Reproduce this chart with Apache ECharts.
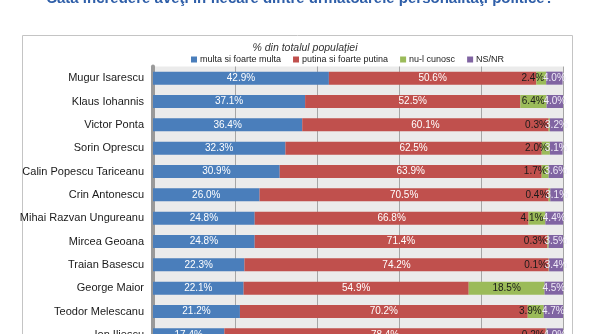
<!DOCTYPE html>
<html><head><meta charset="utf-8">
<script src="https://cdn.jsdelivr.net/npm/echarts@6/dist/echarts.min.js"></script>
<style>html,body{margin:0;padding:0;background:#fff;overflow:hidden;height:334px}#c{width:600px;height:360px}</style>
</head><body><div id="c"></div>
<script>
const categories = ["Mugur Isarescu","Klaus Iohannis","Victor Ponta","Sorin Oprescu","Calin Popescu Tariceanu","Crin Antonescu","Mihai Razvan Ungureanu","Mircea Geoana","Traian Basescu","George Maior","Teodor Melescanu","Ion Iliescu"];
const multa = [42.9,37.1,36.4,32.3,30.9,26.0,24.8,24.8,22.3,22.1,21.2,17.4];
const putina = [50.6,52.5,60.1,62.5,63.9,70.5,66.8,71.4,74.2,54.9,70.2,78.4];
const nuCunosc = [2.4,6.4,0.3,2.0,1.7,0.4,4.1,0.3,0.1,18.5,3.9,0.2];
const nsnr = [4.0,4.0,3.2,3.1,3.6,3.1,4.4,3.5,3.4,4.5,4.7,4.0];
const seriesNames = ["multa si foarte multa","putina si foarte putina","nu-l cunosc","NS/NR"];
const colors = ["#4a7ebb","#c0504d","#9bbb59","#8064a2"];
const labelColors = ["#ffffff","#ffffff","#1a1a1a","#f0ecf8"];

const chart = echarts.init(document.getElementById('c'), null, {renderer:'canvas'});
const dataSets = [multa, putina, nuCunosc, nsnr];
const series = dataSets.map((d,i)=>({
  name: seriesNames[i], type:'bar', stack:'t', barWidth:13,
  data: d.map(v => {
    const o = {value:v};
    if (i === 2 && v < 10) o.label = {position:'insideRight', distance:2};
    return o;
  }),
  itemStyle:{color:colors[i]},
  label:{show:true, position:'inside', color:labelColors[i], fontSize:10, fontFamily:'Liberation Sans',
    formatter: p => p.value.toFixed(1)+'%'},
  labelLayout:{hideOverlap:false}
}));
chart.setOption({
  animation:false,
  title:[{text:'Cata incredere aveţi in fiecare dintre urmatoarele personalitaţi politice?', left:'center', top:-14,
    textStyle:{fontSize:15, fontWeight:'bold', color:'#2e5ea8', fontFamily:'Liberation Sans'}},
    {text:'% din totalul populaţiei', left:300, top:38, textAlign:'center',
    textStyle:{fontSize:10.5, fontWeight:'normal', fontStyle:'italic', color:'#333', fontFamily:'Liberation Sans'}}],
  graphic:[{type:'rect', shape:{x:22.5,y:35.5,width:550,height:330}, style:{fill:'none', stroke:'#c4c4c4', lineWidth:1}, z:-1}],
  legend:{left:186, top:50, itemWidth:6, itemHeight:6, itemGap:12, icon:'rect',
    textStyle:{fontSize:9, color:'#222', fontFamily:'Liberation Sans', padding:[0,0,0,-2]}, data:seriesNames},
  grid:{left:153, top:66.5, width:410, height:280, show:true, backgroundColor:'#ebebeb', borderWidth:0},
  xAxis:{type:'value', min:0, max:100, interval:20, axisLabel:{show:false}, axisLine:{show:false}, axisTick:{show:false},
    splitLine:{show:true, lineStyle:{color:'#a6a6a6', width:1}}},
  yAxis:{type:'category', data:categories, inverse:true,
    axisLine:{show:true, lineStyle:{color:'#9a9a9a', width:4}}, axisTick:{show:false},
    axisLabel:{fontSize:11, color:'#1a1a1a', fontFamily:'Liberation Sans', margin:9}},
  series: series
});
</script></body></html>
